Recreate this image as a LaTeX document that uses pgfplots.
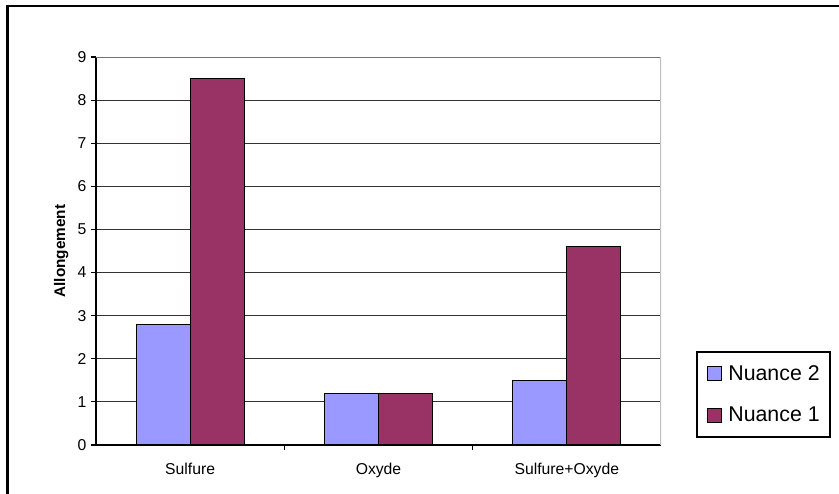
\documentclass[border=0pt]{standalone}
\usepackage{pgfplots}
\pgfplotsset{compat=1.18}
\usepackage{fontspec}
\setmainfont{Liberation Sans}
\definecolor{nblue}{HTML}{9999FF}
\definecolor{nred}{HTML}{993366}
\begin{document}
\begin{tikzpicture}
\useasboundingbox (0pt,0pt) rectangle (629.25pt,369.75pt);
\draw[line width=1.6pt] (5.6pt,-4pt) -- (5.6pt,365pt) -- (634pt,365pt);
\begin{axis}[
  at={(72pt,36pt)}, anchor=south west,
  scale only axis, width=423.75pt, height=291pt,
  xmin=-0.5, xmax=2.5, ymin=0, ymax=9,
  ybar=0pt, bar width=40.5pt,
  axis x line*=bottom, axis y line*=left,
  axis line style={-, black, line width=0.8pt},
  ymajorgrids, grid style={black!80, line width=0.6pt},
  ytick={0,...,9},
  xtick={0,1,2}, xticklabels={Sulfure,Oxyde,Sulfure+Oxyde},
  x tick style={draw=none},
  extra x ticks={0.5,1.5}, extra x tick labels={},
  extra x tick style={x tick style={draw=black, line width=0.8pt}},
  y tick style={black, line width=0.8pt},
  tick align=outside, major tick length=3.75pt,
  ticklabel style={font=\fontsize{11.8}{13}\selectfont},
  xticklabel style={yshift=-6pt},
  /pgf/number format/assume math mode=true,
  ylabel={\textbf{Allongement}},
  ylabel style={font=\fontsize{11.5}{13}\selectfont, xshift=0pt},
  legend style={at={(rel axis cs:1.062,0.018)}, anchor=south west,
    draw=black, line width=1.5pt, font=\fontsize{16}{19}\selectfont,
    row sep=14.75pt, inner ysep=8pt, inner xsep=6pt,
    cells={anchor=west}},
  legend image code/.code={\draw[#1, line width=0.5pt] (1.5pt,-5.25pt) rectangle (12pt,5.25pt); \path[draw=none,fill=none] (0pt,0pt) -- (15.5pt,0pt);},
]
\addplot[fill=nblue, draw=black, line width=0.8pt] coordinates {(0,2.8) (1,1.2) (2,1.5)};
\addplot[fill=nred, draw=black, line width=0.8pt] coordinates {(0,8.5) (1,1.2) (2,4.6)};
\legend{Nuance 2, Nuance 1}
\draw[black!55, line width=0.6pt] (rel axis cs:0,1) -- (rel axis cs:1,1);
\draw[black!25, line width=1.5pt] (rel axis cs:1,0) -- (rel axis cs:1,1);
\end{axis}
\end{tikzpicture}
\end{document}
